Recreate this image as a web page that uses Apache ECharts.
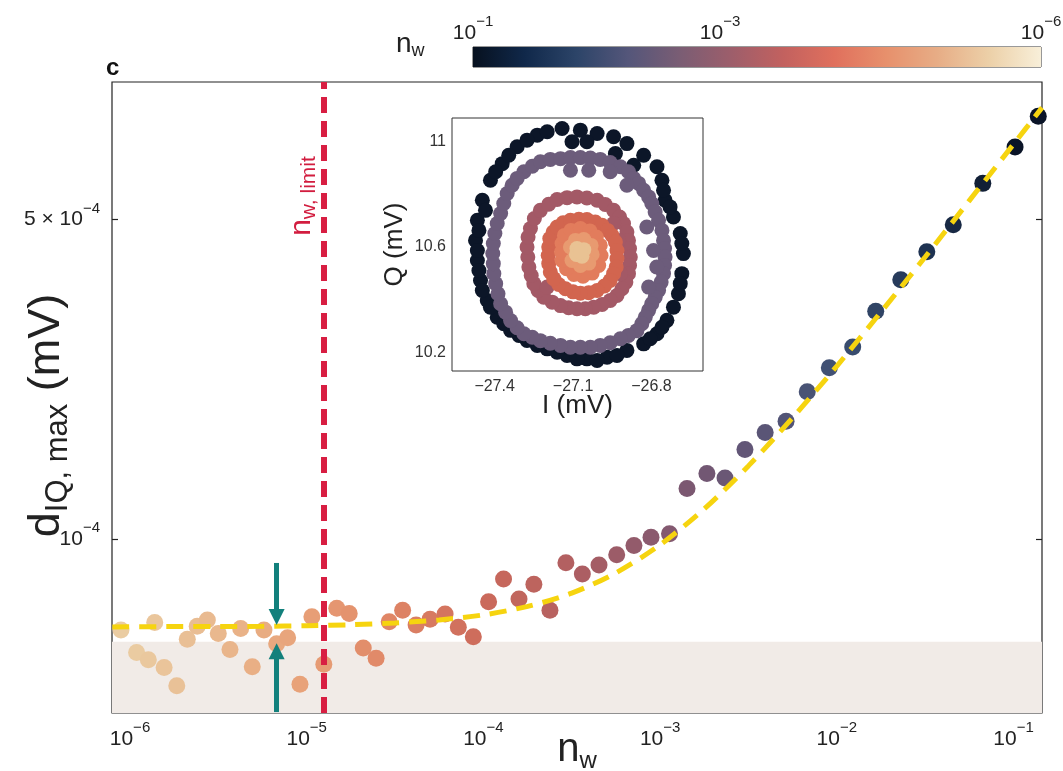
<!DOCTYPE html>
<html><head><meta charset="utf-8">
<script src="https://cdn.jsdelivr.net/npm/echarts@6/dist/echarts.min.js"></script>
<style>html,body{margin:0;padding:0;background:#fff}#c{width:1063px;height:771px}</style>
</head><body><div id="c"></div>
<script>
// ---------- main panel data ----------
const nw = [8.89e-7,1.38e-6,1.09e-6,1.27e-6,1.56e-6,1.84e-6,2.11e-6,2.40e-6,2.74e-6,3.16e-6,
  3.68e-6,4.23e-6,4.92e-6,5.73e-6,6.76e-6,7.80e-6,9.16e-6,1.07e-5,1.25e-5,1.48e-5,
  1.74e-5,2.09e-5,2.47e-5,2.93e-5,3.49e-5,4.16e-5,4.99e-5,6.07e-5,7.21e-5,8.77e-5,
  1.07e-4,1.30e-4,1.59e-4,1.93e-4,2.38e-4,2.93e-4,3.63e-4,4.51e-4,5.68e-4,7.11e-4,
  8.88e-4,1.13e-3,1.42e-3,1.84e-3,2.33e-3,3.02e-3,3.93e-3,5.16e-3,6.80e-3,9.07e-3,
  1.23e-2,1.66e-2,2.30e-2,3.23e-2,4.56e-2,6.70e-2,0.102,0.138];
const dIQ = [6.32e-5,6.56e-5,5.64e-5,5.44e-5,5.23e-5,4.77e-5,6.03e-5,6.44e-5,6.65e-5,6.21e-5,
  5.73e-5,6.37e-5,5.25e-5,6.32e-5,5.90e-5,6.08e-5,4.81e-5,6.76e-5,5.32e-5,7.05e-5,
  6.87e-5,5.77e-5,5.48e-5,6.59e-5,6.98e-5,6.48e-5,6.67e-5,6.85e-5,6.41e-5,6.11e-5,
  7.29e-5,8.17e-5,7.39e-5,7.96e-5,6.98e-5,8.87e-5,8.38e-5,8.77e-5,9.23e-5,9.67e-5,
  1.009e-4,1.026e-4,1.29e-4,1.39e-4,1.36e-4,1.57e-4,1.71e-4,1.81e-4,2.10e-4,2.37e-4,
  2.63e-4,3.15e-4,3.69e-4,4.25e-4,4.87e-4,6.00e-4,7.21e-4,8.41e-4];
const fitNw = [7.94e-7,1.78e-6,3.16e-6,5.62e-6,1e-5,1.78e-5,3.16e-5,5.62e-5,1e-4,1.78e-4,3.16e-4,
  5.62e-4,1e-3,1.78e-3,3.16e-3,5.62e-3,1e-2,1.78e-2,3.16e-2,5.62e-2,1e-1,1.45e-1];
const fitD = [6.42e-5,6.43e-5,6.43e-5,6.44e-5,6.46e-5,6.49e-5,6.55e-5,6.65e-5,6.82e-5,7.12e-5,7.61e-5,
  8.43e-5,9.71e-5,1.164e-4,1.445e-4,1.842e-4,2.39e-4,3.14e-4,4.14e-4,5.50e-4,7.31e-4,8.79e-4];
const xRange = [7.91e-7, 0.1449];
const yRange = [4.16e-5, 1.0e-3];
const yTickValues = [1e-4, 5e-4];
const nLimit = 1.25e-5;
const bandTop = 5.96e-5;
const arrowN = 6.76e-6;
const arrowDown = [8.86e-5, 6.75e-5];
const arrowUp = [4.18e-5, 5.68e-5];
const pointColors = ['#eacca2','#e9b88e','#e8a077','#df8465','#cc6a5b','#b15f61','#87596f','#605677','#3e5174','#1e3352','#0a1427'];

// ---------- inset data (I, Q in mV) ----------
const ring1I = [-27.142,-27.072,-27.008,-26.945,-26.894,-26.830,-26.779,-26.760,-26.748,-26.716,-26.690,-26.678,-26.684,-26.697,-26.716,-26.741,-26.779,-26.830,-26.894,-26.970,-27.047,-27.123,-27.199,-27.276,-27.339,-27.390,-27.428,-27.454,-27.466,-27.473,-27.466,-27.447,-27.416,-27.371,-27.314,-27.237,
  -27.199,-27.104,-27.047,-26.938,-26.868,-26.754,-26.729,-26.684,-26.690,-26.760,-26.805,-26.932,-27.008,-27.085,-27.161,-27.237,-27.307,-27.365,-27.416,-27.447,-27.460,-27.466,-27.460,-27.435,-27.396,-27.346,-27.276];
const ring1Q = [11.049,11.043,11.030,11.018,10.992,10.948,10.904,10.853,10.777,10.714,10.651,10.575,10.499,10.423,10.372,10.322,10.271,10.233,10.208,10.182,10.176,10.189,10.214,10.246,10.284,10.334,10.397,10.473,10.549,10.625,10.701,10.777,10.853,10.916,10.980,11.024,
  11.037,10.999,10.999,10.954,10.910,10.815,10.752,10.613,10.461,10.296,10.252,10.189,10.170,10.176,10.201,10.227,10.265,10.309,10.372,10.435,10.511,10.587,10.663,10.739,10.885,10.948,11.005];
const ring2I = [-27.288,-27.256,-27.225,-27.187,-27.148,-27.110,-27.072,-27.034,-26.996,-26.958,-26.919,-26.888,-26.868,-26.849,-26.830,-26.811,-26.799,-26.786,-26.773,-26.760,-26.754,-26.750,-26.748,-26.750,-26.754,-26.763,-26.773,-26.786,-26.799,-26.811,-26.824,-26.837,-26.856,-26.888,-26.919,-26.958,-26.996,-27.034,-27.072,-27.110,-27.148,-27.187,-27.225,-27.256,-27.288,-27.314,-27.339,-27.358,-27.377,-27.387,-27.396,-27.403,-27.405,-27.407,-27.405,-27.399,-27.390,-27.377,-27.365,-27.352,-27.333,-27.314,
  -27.110,-27.040,-26.958,-26.894,-26.818,-26.792,-26.780,-26.811];
const ring2Q = [10.885,10.906,10.923,10.932,10.935,10.939,10.939,10.937,10.932,10.920,10.904,10.885,10.860,10.841,10.815,10.790,10.765,10.733,10.701,10.663,10.625,10.594,10.562,10.530,10.499,10.467,10.435,10.410,10.385,10.360,10.334,10.309,10.283,10.265,10.252,10.237,10.227,10.220,10.220,10.220,10.227,10.235,10.245,10.258,10.271,10.294,10.321,10.353,10.385,10.423,10.461,10.499,10.537,10.575,10.613,10.651,10.689,10.727,10.765,10.803,10.834,10.860,
  10.891,10.891,10.885,10.834,10.676,10.587,10.524,10.448];
const ring3I = [-27.263,-27.248,-27.225,-27.193,-27.161,-27.123,-27.085,-27.047,-27.008,-26.977,-26.945,-26.922,-26.907,-26.894,-26.888,-26.884,-26.881,-26.884,-26.888,-26.898,-26.913,-26.932,-26.958,-26.989,-27.021,-27.053,-27.085,-27.117,-27.148,-27.180,-27.212,-27.234,-27.250,-27.260,-27.269,-27.273,-27.276,-27.272,
  -26.945,-26.926,-26.919,-27.199];
const ring3Q = [10.670,10.708,10.739,10.762,10.780,10.787,10.790,10.786,10.777,10.761,10.739,10.714,10.689,10.657,10.625,10.594,10.562,10.530,10.499,10.467,10.442,10.416,10.397,10.382,10.372,10.366,10.366,10.370,10.378,10.391,10.410,10.435,10.461,10.492,10.524,10.562,10.600,10.638,
  10.689,10.625,10.499,10.448];
const ring4I = [-27.193,-27.189,-27.176,-27.161,-27.138,-27.110,-27.078,-27.047,-27.015,-26.989,-26.968,-26.951,-26.938,-26.932,-26.932,-26.935,-26.945,-26.958,-26.980,-27.008,-27.040,-27.072,-27.100,-27.129,-27.155,-27.174,-27.187,-27.193,-27.195];
const ring4Q = [10.600,10.632,10.657,10.676,10.692,10.701,10.705,10.704,10.695,10.682,10.663,10.644,10.619,10.587,10.556,10.524,10.499,10.473,10.452,10.435,10.427,10.425,10.430,10.442,10.458,10.480,10.505,10.537,10.568];
const ring5I = [-27.142,-27.133,-27.108,-27.072,-27.036,-27.011,-26.996,-26.993,-27.002,-27.027,-27.062,-27.097,-27.125,-27.142,-27.144];
const ring5Q = [10.613,10.644,10.663,10.670,10.661,10.638,10.606,10.568,10.530,10.501,10.489,10.496,10.518,10.549,10.581];
const ring6I = [-27.110,-27.091,-27.059,-27.031,-27.027,-27.040,-27.072,-27.104];
const ring6Q = [10.600,10.625,10.628,10.606,10.572,10.539,10.530,10.549];
const ring7I = [-27.085,-27.059,-27.066,-27.087,-27.072];
const ring7Q = [10.594,10.590,10.565,10.572,10.581];
const ringColors = ['#0c1628','#6c5c7b','#a35966','#d2654f','#e27c5c','#e89a70','#e9c293'];
const insetIRange = [-27.563, -26.603];
const insetQRange = [10.13, 11.089];
const insetITicks = [-27.4, -27.1, -26.8];
const insetQTicks = [10.2, 10.6, 11];

// ---------- colour bar ----------
const colorbarColors = ['#07111f','#10284a','#2c4468','#54567a','#7a5d74','#9d5e6b','#c2615f','#e0705d','#e7906c','#e7ad86','#ecd0a8','#f8efd9'];
const colorbarTickPos = [0, 0.435, 1];
const colorbarTickExp = ['1', '3', '6'];

const FONT = '"Liberation Sans", Arial, Helvetica, sans-serif';
const TXT = '#222';
const supRich = {
  b: {fontFamily: FONT, fontSize: 21, color: TXT, lineHeight: 22},
  s: {fontFamily: FONT, fontSize: 15, color: TXT, lineHeight: 15, padding: [0, 0, 22, 0]}
};
function powLabel(v) {
  const e = Math.floor(Math.log10(v) + 1e-9);
  const m = Math.round(v / Math.pow(10, e));
  return (m === 1 ? '' : '{b|' + m + ' \u00d7 }') + '{b|10}{s|\u2212' + Math.abs(e) + '}';
}

const mainData = nw.map((n, i) => [n, dIQ[i], Math.log10(n)]);
const fitData = fitNw.map((n, i) => [n, fitD[i]]);
const rings = [[ring1I, ring1Q], [ring2I, ring2Q], [ring3I, ring3Q], [ring4I, ring4Q], [ring5I, ring5Q], [ring6I, ring6Q], [ring7I, ring7Q]];

const chart = echarts.init(document.getElementById('c'), null, {renderer: 'canvas'});

const ringSeries = rings.map((r, k) => ({
  type: 'scatter', xAxisIndex: 1, yAxisIndex: 2, z: 10 + k, symbolSize: 15, silent: true,
  itemStyle: {color: ringColors[k], opacity: 1},
  data: r[0].map((v, i) => [v, r[1][i]])
}));

const option = {
  animation: false,
  backgroundColor: '#fff',
  grid: [
    {left: 112, top: 82, width: 930, height: 631, outerBoundsMode: 'none', containLabel: false, show: true, borderColor: '#222', borderWidth: 1.2, backgroundColor: 'transparent'},
    {left: 452, top: 118, width: 251, height: 253, outerBoundsMode: 'none', containLabel: false, show: true, borderColor: '#333', borderWidth: 1, backgroundColor: '#fff', z: 5},
    {left: 473, top: 47, width: 568, height: 20, outerBoundsMode: 'none', containLabel: false, show: true, borderColor: '#333', borderWidth: 1}
  ],
  xAxis: [
    {type: 'log', gridIndex: 0, min: xRange[0], max: xRange[1], position: 'bottom',
      axisLine: {show: false}, splitLine: {show: false},
      axisTick: {show: true, inside: true, length: 6, lineStyle: {color: '#222', width: 1.2}},
      axisLabel: {margin: 15, showMinLabel: false, showMaxLabel: false, formatter: powLabel, rich: supRich},
      name: '{n|n}{w|w}', nameLocation: 'middle', nameGap: 14, nameMoveOverlap: false,
      nameTextStyle: {rich: {n: {fontFamily: FONT, fontSize: 40, color: TXT}, w: {fontFamily: FONT, fontSize: 24, color: TXT, padding: [22, 0, 0, 0]}}}},
    {type: 'value', gridIndex: 1, min: insetIRange[0], max: insetIRange[1],
      axisLine: {show: false}, splitLine: {show: false},
      axisTick: {inside: true, length: 5, customValues: insetITicks, lineStyle: {color: '#333'}},
      axisLabel: {customValues: insetITicks, margin: 8, fontFamily: FONT, fontSize: 16, color: '#333',
        formatter: v => (v < 0 ? '\u2212' : '') + Math.abs(v).toFixed(1)},
      name: 'I (mV)', nameLocation: 'middle', nameGap: 22, nameMoveOverlap: false,
      nameTextStyle: {fontFamily: FONT, fontSize: 26, color: TXT}},
    {type: 'value', gridIndex: 2, min: 0, max: 1, position: 'top',
      axisLine: {show: false}, splitLine: {show: false}, axisTick: {show: false},
      axisLabel: {customValues: colorbarTickPos, margin: 3, rich: supRich,
        formatter: v => { const i = colorbarTickPos.findIndex(p => Math.abs(p - v) < 1e-6); return '{b|10}{s|\u2212' + colorbarTickExp[i] + '}'; }}}
  ],
  yAxis: [
    {type: 'log', gridIndex: 0, min: yRange[0], max: yRange[1], position: 'left',
      axisLine: {show: false}, splitLine: {show: false},
      axisTick: {inside: true, length: 6, customValues: yTickValues, lineStyle: {color: '#222', width: 1.2}},
      axisLabel: {customValues: yTickValues, margin: 12, formatter: powLabel, rich: supRich},
      name: '{d|d}{sub|IQ, max}{d| (mV)}', nameLocation: 'middle', nameRotate: 90, nameGap: 38, nameMoveOverlap: false,
      nameTextStyle: {padding: [0, 36, 0, 0], rich: {d: {fontFamily: FONT, fontSize: 45, color: TXT}, sub: {fontFamily: FONT, fontSize: 31, color: TXT, padding: [24, 0, 0, 0]}}}},
    {type: 'log', gridIndex: 0, min: yRange[0], max: yRange[1], position: 'right',
      axisLine: {show: false}, splitLine: {show: false},
      axisTick: {inside: true, length: 6, customValues: yTickValues, lineStyle: {color: '#222', width: 1.2}},
      axisLabel: {show: false}},
    {type: 'value', gridIndex: 1, min: insetQRange[0], max: insetQRange[1], position: 'left',
      axisLine: {show: false}, splitLine: {show: false},
      axisTick: {inside: true, length: 5, customValues: insetQTicks, lineStyle: {color: '#333'}},
      axisLabel: {customValues: insetQTicks, margin: 6, fontFamily: FONT, fontSize: 16, color: '#333',
        formatter: v => String(v)},
      name: 'Q (mV)', nameLocation: 'middle', nameRotate: 90, nameGap: 44, nameMoveOverlap: false,
      nameTextStyle: {fontFamily: FONT, fontSize: 26, color: TXT}},
    {type: 'value', gridIndex: 1, min: insetQRange[0], max: insetQRange[1], position: 'right',
      axisLine: {show: false}, splitLine: {show: false},
      axisTick: {inside: true, length: 5, customValues: insetQTicks, lineStyle: {color: '#333'}},
      axisLabel: {show: false}},
    {type: 'value', gridIndex: 2, min: 0, max: 1, show: false}
  ],
  visualMap: {type: 'continuous', show: false, seriesIndex: 1, dimension: 2, min: -6, max: -1,
    inRange: {color: pointColors}},
  series: [
    {type: 'line', xAxisIndex: 0, yAxisIndex: 0, data: [], z: 1, silent: true,
      markArea: {silent: true, itemStyle: {color: '#f1ebe7'}, data: [[{yAxis: yRange[0]}, {yAxis: bandTop}]]}},
    {type: 'scatter', xAxisIndex: 0, yAxisIndex: 0, z: 2, symbolSize: 17, silent: true, data: mainData,
      itemStyle: {opacity: 1}},
    {type: 'line', xAxisIndex: 0, yAxisIndex: 0, z: 3, data: fitData, showSymbol: false, smooth: 0.3, silent: true,
      lineStyle: {color: '#f6d40f', width: 5, type: [17, 10]}},
    {type: 'line', xAxisIndex: 0, yAxisIndex: 0, z: 4, data: [], silent: true,
      markLine: {silent: true, symbol: ['none', 'none'], label: {show: false},
        lineStyle: {color: '#d81e42', width: 6, type: [16, 8]},
        data: [[{coord: [nLimit, yRange[0]]}, {coord: [nLimit, yRange[1]]}]]}},
    {type: 'line', xAxisIndex: 0, yAxisIndex: 0, z: 5, data: [], silent: true,
      markLine: {silent: true, symbol: ['none', 'triangle'], symbolSize: 16, label: {show: false},
        lineStyle: {color: '#12807c', width: 5, type: 'solid'},
        data: [
          [{coord: [arrowN, arrowDown[0]]}, {coord: [arrowN, arrowDown[1]]}],
          [{coord: [arrowN, arrowUp[0]]}, {coord: [arrowN, arrowUp[1]]}]
        ]}},
    ...ringSeries,
    {type: 'line', xAxisIndex: 2, yAxisIndex: 4, data: [], z: 1, silent: true,
      markArea: {silent: true,
        itemStyle: {color: new echarts.graphic.LinearGradient(0, 0, 1, 0,
          colorbarColors.map((c, i) => ({offset: i / (colorbarColors.length - 1), color: c})))},
        data: [[{xAxis: 0, yAxis: 0}, {xAxis: 1, yAxis: 1}]]}}
  ],
  graphic: [
    {type: 'text', left: 106, top: 56, style: {text: 'c', fontFamily: FONT, fontSize: 24, fontWeight: 'bold', fill: '#111'}},
    {type: 'text', x: 396, y: 28, style: {text: '{n|n}{w|w}', rich: {n: {fontFamily: FONT, fontSize: 28, fill: TXT}, w: {fontFamily: FONT, fontSize: 18, fill: TXT, padding: [14, 0, 0, 0]}}}},
    {type: 'text', x: 302, y: 196, rotation: Math.PI / 2, z: 20,
      style: {text: '{n|n}{s|w, limit}', align: 'center', verticalAlign: 'middle',
        rich: {n: {fontFamily: FONT, fontSize: 30, fill: '#d21d3f'}, s: {fontFamily: FONT, fontSize: 21, fill: '#d21d3f', padding: [15, 0, 0, 0]}}}}
  ]
};
chart.setOption(option);
</script>
</body></html>
